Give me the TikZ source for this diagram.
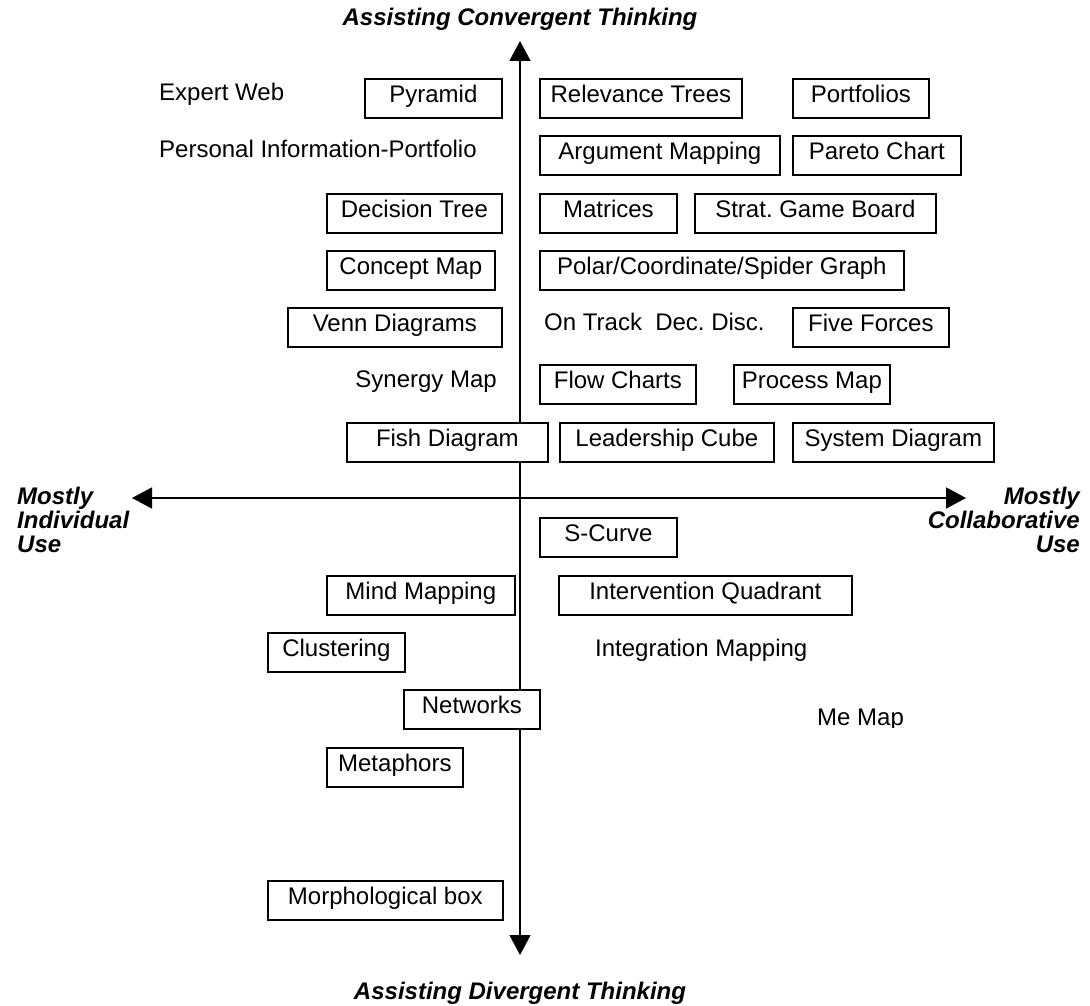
\documentclass[tikz,border=0pt]{standalone}
\usepackage{fontspec}
\setmainfont{Liberation Sans}
\usetikzlibrary{arrows.meta}
\frenchspacing
\begin{document}
\begin{tikzpicture}[x=1pt,y=-1pt,
  every node/.style={font=\fontsize{24}{24}\selectfont},
  box/.style={draw, fill=white, line width=1.7pt, inner sep=0pt,
    text height=24pt, text depth=15pt, anchor=north west},
  plain/.style={inner sep=0pt, anchor=base west},
  title/.style={inner sep=0pt, anchor=base, font=\fontsize{24}{24}\selectfont\bfseries\itshape},
  side/.style={inner sep=0pt, font=\fontsize{24}{24}\selectfont\bfseries\itshape},
  axis/.style={line width=1.8pt, {Triangle[length=20pt,width=21pt]}-{Triangle[length=20pt,width=21pt]}}]
\useasboundingbox (0,0) rectangle (1090,1006);

% axis end points
\coordinate (ytop) at (520,41);
\coordinate (ybot) at (520,955);
\coordinate (xleft) at (132,498);
\coordinate (xright) at (966,498);
\draw[axis] (ytop) -- (ybot);
\draw[axis] (xleft) -- (xright);

% axis titles
\node[title] (conv) at (520,26) {Assisting Convergent Thinking};
\node[title] (div) at (520,999) {Assisting Divergent Thinking};
\node[side, anchor=north west, align=left] (indiv) at (17,487) {Mostly\\Individual\\Use};
\node[side, anchor=north east, align=right] (collab) at (1080,487) {Mostly\\Collaborative\\Use};

% upper left
\node[plain] (expert) at (159,101) {Expert Web};
\node[box, minimum width=137pt] (pyramid) at (364,78) {Pyramid};
\node[plain] (pip) at (159,158) {Personal Information-Portfolio};
\node[box, minimum width=175pt] (dtree) at (326,193) {Decision Tree};
\node[box, minimum width=168pt] (concept) at (326,250) {Concept Map};
\node[box, minimum width=214pt] (venn) at (287,307) {Venn Diagrams};
\node[plain, anchor=base east] (synergy) at (497,387) {Synergy Map};
\node[box, minimum width=201pt] (fish) at (346,422) {Fish Diagram};

% upper right
\node[box, minimum width=202pt] (relev) at (539,78) {Relevance Trees};
\node[box, minimum width=136pt] (portf) at (792,78) {Portfolios};
\node[box, minimum width=240pt] (argmap) at (539,135) {Argument Mapping};
\node[box, minimum width=168pt] (pareto) at (792,135) {Pareto Chart};
\node[box, minimum width=137pt] (matrices) at (539,193) {Matrices};
\node[box, minimum width=241pt] (strat) at (694,193) {Strat. Game Board};
\node[box, minimum width=364pt] (polar) at (539,250) {Polar/Coordinate/Spider Graph};
\node[plain] (ontrack) at (544,330) {On Track\ \ Dec. Disc.};
\node[box, minimum width=156pt] (five) at (792,307) {Five Forces};
\node[box, minimum width=156pt] (flow) at (539,364) {Flow Charts};
\node[box, minimum width=156pt] (process) at (733,364) {Process Map};
\node[box, minimum width=214pt] (leader) at (559,422) {Leadership Cube};
\node[box, minimum width=201pt] (system) at (792,422) {System Diagram};

% lower right
\node[box, minimum width=137pt] (scurve) at (539,517) {S-Curve};
\node[box, minimum width=293pt] (interv) at (558,575) {Intervention Quadrant};
\node[plain] (integ) at (595,656) {Integration Mapping};
\begin{scope}
  \clip (800,690) rectangle (930,727);
  \node[plain] (memap) at (817,725) {Me Map};
\end{scope}

% lower left
\node[box, minimum width=188pt] (mind) at (326,575) {Mind Mapping};
\node[box, minimum width=137pt] (cluster) at (267,632) {Clustering};
\node[box, minimum width=136pt] (networks) at (403,689) {Networks};
\node[box, minimum width=136pt] (metaph) at (326,747) {Metaphors};
\node[box, minimum width=235pt] (morph) at (267,880) {Morphological box};
\end{tikzpicture}
\end{document}
